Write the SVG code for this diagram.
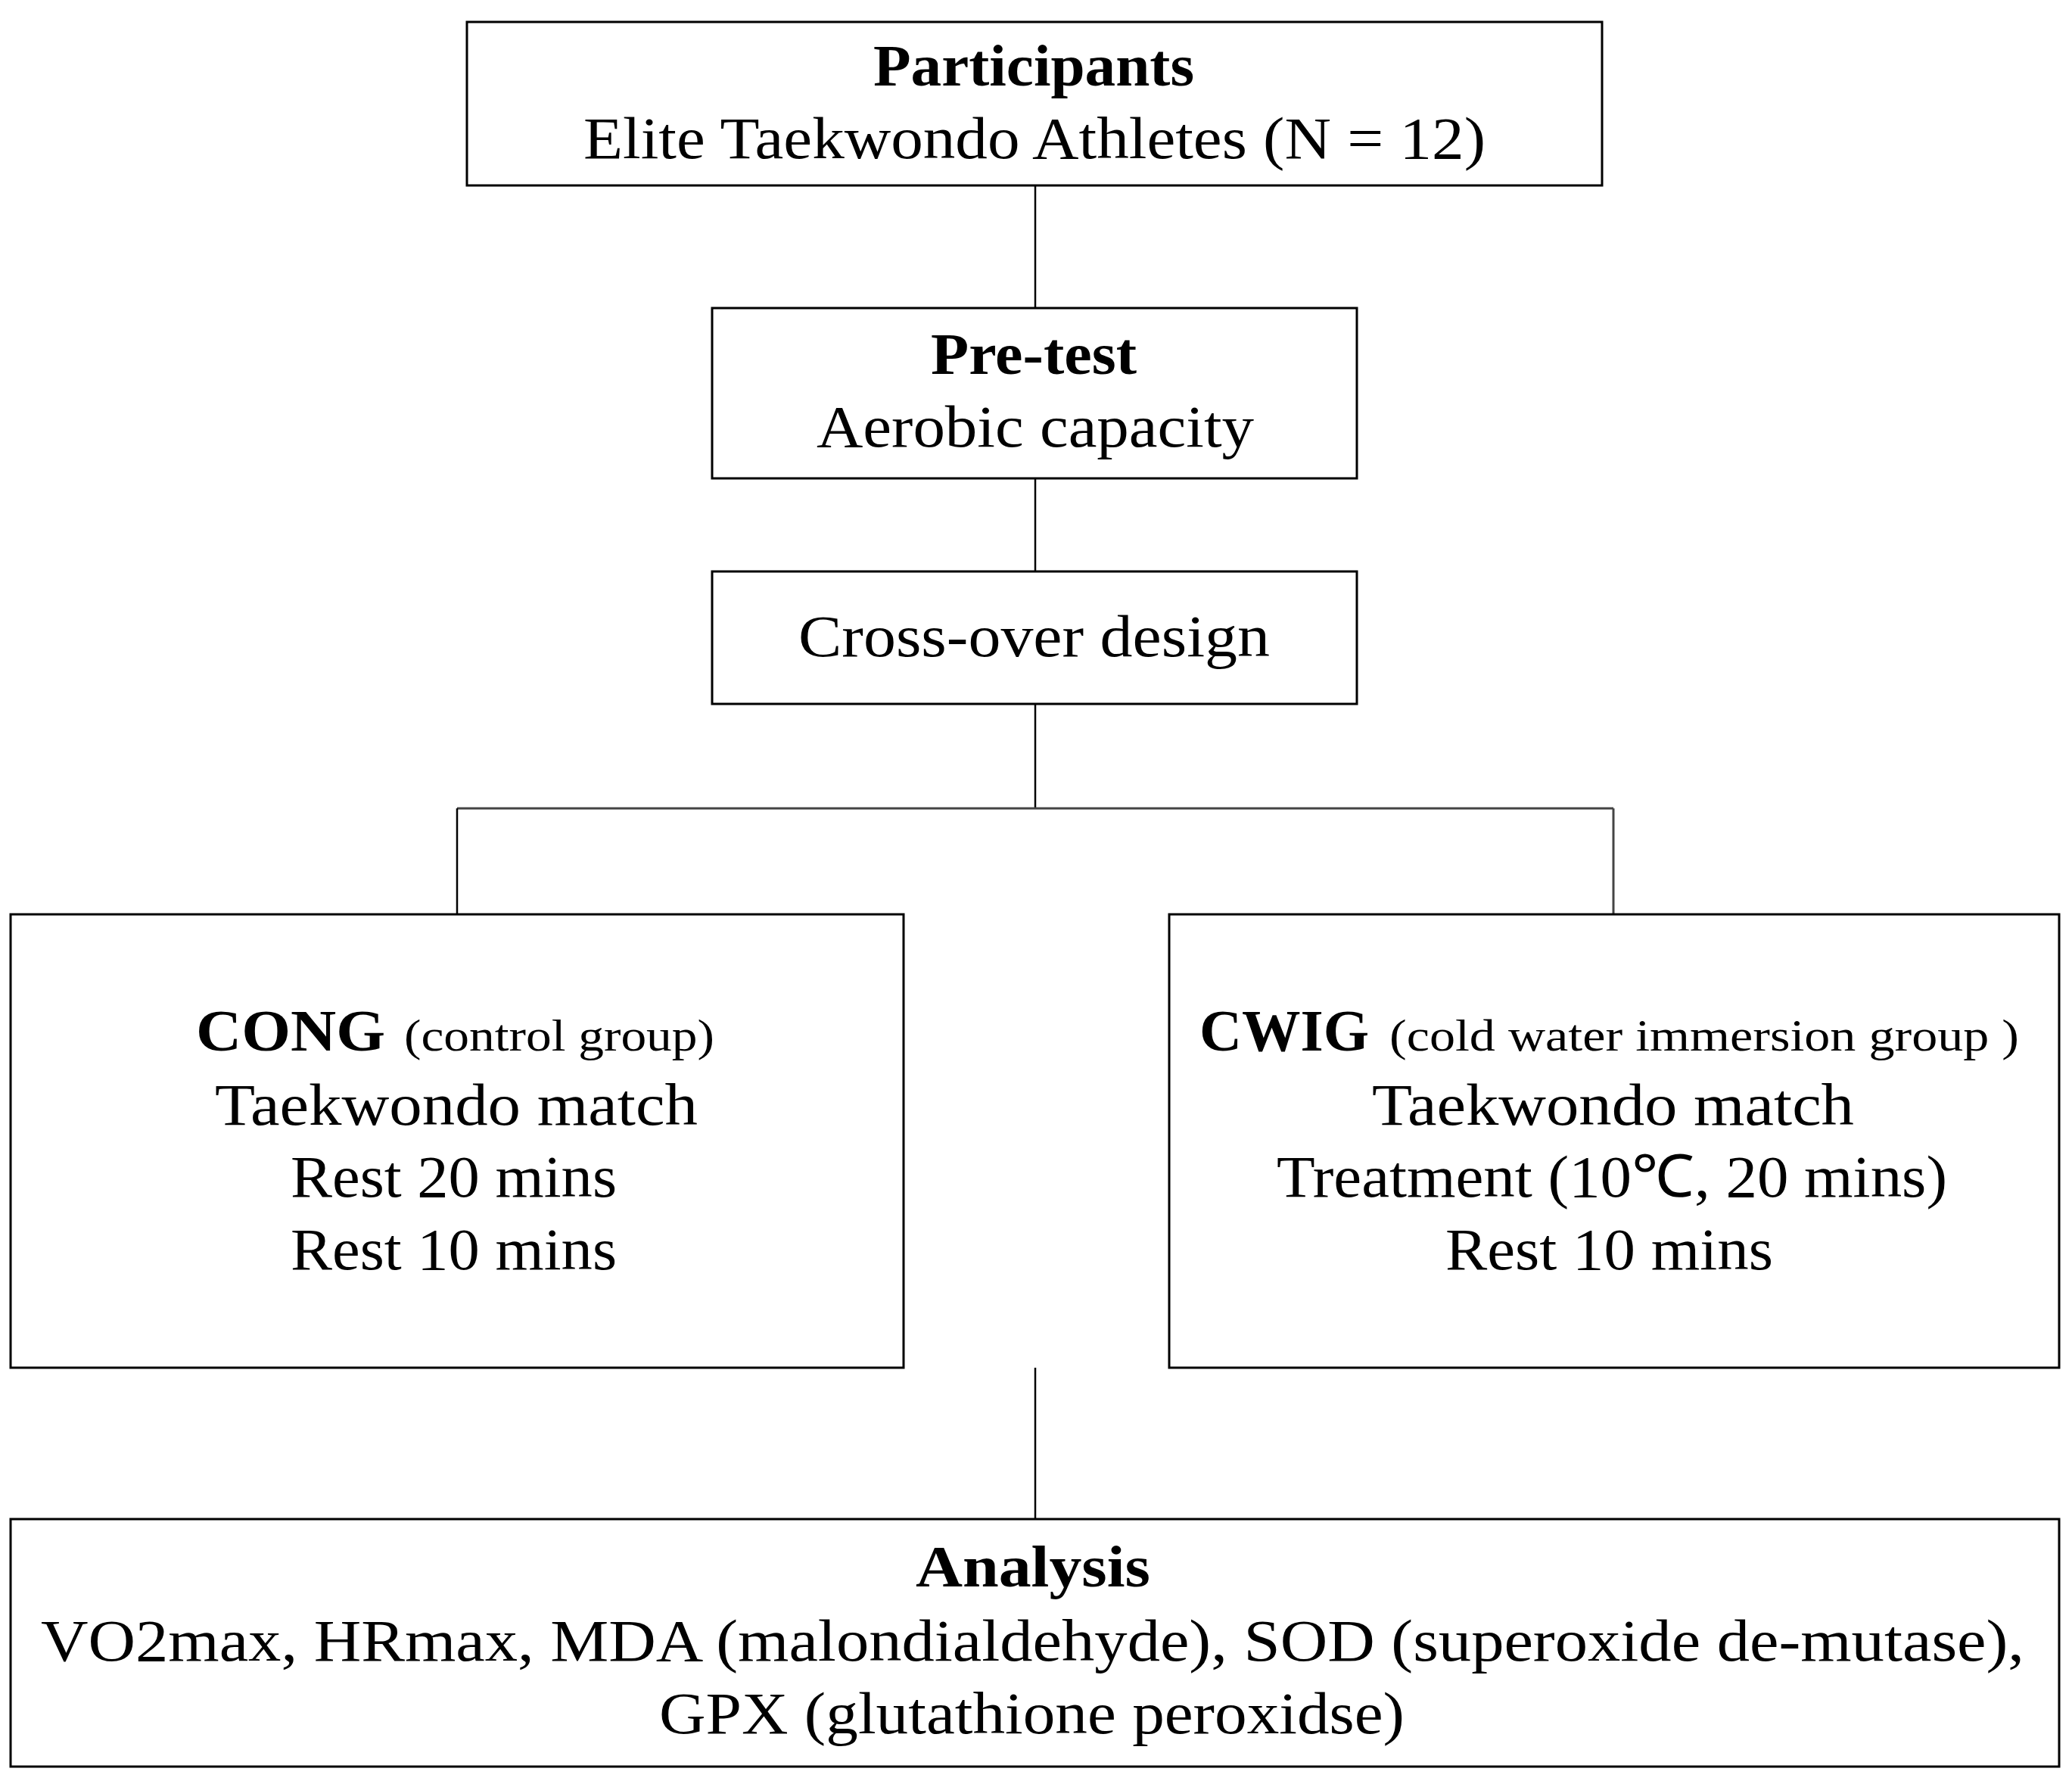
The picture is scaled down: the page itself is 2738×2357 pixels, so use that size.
<svg xmlns="http://www.w3.org/2000/svg" width="2738" height="2357" viewBox="0 0 2738 2357">
<style>
.box{fill:#fff;stroke:#000;stroke-width:3}
.t{font-family:"Liberation Serif","Times New Roman",serif;font-size:78px;fill:#000}
.b{font-weight:bold}
.s{font-size:60px}
.c{stroke:#000;stroke-width:2.5;fill:none}
.g{stroke:#444;stroke-width:3;fill:none}
</style>
<rect width="2738" height="2357" fill="#fff"/>
<g id="connectors">
<line class="c" x1="1368" y1="245" x2="1368" y2="407"/>
<line class="c" x1="1368" y1="632" x2="1368" y2="755"/>
<line class="c" x1="1368" y1="930" x2="1368" y2="1068"/>
<line class="g" x1="604" y1="1068" x2="2132" y2="1068"/>
<line class="c" x1="604" y1="1068" x2="604" y2="1208"/>
<line class="g" x1="2132" y1="1068" x2="2132" y2="1208"/>
<line class="c" x1="1368" y1="1807" x2="1368" y2="2007"/>
</g>
<g id="participants">
<rect class="box" x="617" y="29" width="1500" height="216"/>
<text class="t b" x="1154" y="113" textLength="424" lengthAdjust="spacingAndGlyphs">Participants</text>
<text class="t" x="771" y="209" textLength="1192" lengthAdjust="spacingAndGlyphs">Elite Taekwondo Athletes (N = 12)</text>
</g>
<g id="pretest">
<rect class="box" x="941" y="407" width="852" height="225"/>
<text class="t b" x="1230" y="494" textLength="272" lengthAdjust="spacingAndGlyphs">Pre-test</text>
<text class="t" x="1079" y="590" textLength="578" lengthAdjust="spacingAndGlyphs">Aerobic capacity</text>
</g>
<g id="crossover">
<rect class="box" x="941" y="755" width="852" height="175"/>
<text class="t" x="1055" y="867" textLength="623" lengthAdjust="spacingAndGlyphs">Cross-over design</text>
</g>
<g id="cong">
<rect class="box" x="14" y="1208" width="1180" height="599"/>
<text class="t b" x="259" y="1388" textLength="250" lengthAdjust="spacingAndGlyphs">CONG</text>
<text class="t s" x="534" y="1388" textLength="410" lengthAdjust="spacingAndGlyphs">(control group)</text>
<text class="t" x="284" y="1486" textLength="638" lengthAdjust="spacingAndGlyphs">Taekwondo  match</text>
<text class="t" x="384" y="1581" textLength="431" lengthAdjust="spacingAndGlyphs">Rest 20 mins</text>
<text class="t" x="384" y="1677" textLength="431" lengthAdjust="spacingAndGlyphs">Rest 10 mins</text>
</g>
<g id="cwig">
<rect class="box" x="1545" y="1208" width="1176" height="599"/>
<text class="t b" x="1585" y="1388" textLength="224" lengthAdjust="spacingAndGlyphs">CWIG</text>
<text class="t s" x="1836" y="1388" textLength="832" lengthAdjust="spacingAndGlyphs">(cold water immersion group )</text>
<text class="t" x="1813" y="1486" textLength="637" lengthAdjust="spacingAndGlyphs">Taekwondo  match</text>
<text class="t" x="1687" y="1581" textLength="886" lengthAdjust="spacingAndGlyphs">Treatment (10℃, 20 mins)</text>
<text class="t" x="1910" y="1677" textLength="433" lengthAdjust="spacingAndGlyphs">Rest 10 mins</text>
</g>
<g id="analysis">
<rect class="box" x="14" y="2007" width="2707" height="327"/>
<text class="t b" x="1210" y="2096" textLength="310" lengthAdjust="spacingAndGlyphs">Analysis</text>
<text class="t" x="54" y="2194" textLength="2621" lengthAdjust="spacingAndGlyphs">VO2max, HRmax, MDA (malondialdehyde), SOD (superoxide de-mutase),</text>
<text class="t" x="871" y="2290" textLength="985" lengthAdjust="spacingAndGlyphs">GPX (glutathione peroxidse)</text>
</g>
</svg>
